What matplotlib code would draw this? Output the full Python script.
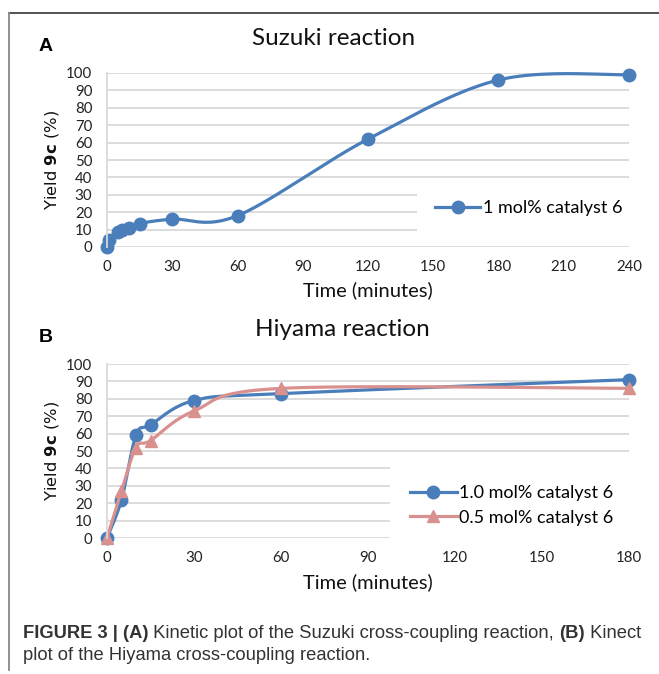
import numpy as np
import matplotlib
matplotlib.use('Agg')
import matplotlib.pyplot as plt
from matplotlib.lines import Line2D

plt.rcParams['mathtext.fontset'] = 'custom'
plt.rcParams['mathtext.rm'] = 'DejaVu Sans'
plt.rcParams['mathtext.bf'] = 'DejaVu Sans:bold'

# data
suz_t = [0, 1, 5, 7, 10, 15, 30, 60, 120, 180, 240]
suz_y = [0, 4, 8.5, 9.5, 11, 13.5, 16, 18, 62, 96, 99]
suz_label = '1 mol% catalyst 6'

hiy_t = [0, 5, 10, 15, 30, 60, 180]
hiy_10 = [0, 22, 59, 65, 79, 83, 91]
hiy_05 = [0, 27, 52, 56, 73, 86, 86]
hiy_labels = ['1.0 mol% catalyst 6', '0.5 mol% catalyst 6']

BLUE = '#4a7ebb'
PINK = '#d9918f'
GRID = '#d9d9d9'
CHART_FONT = 'Lato'

W, H = 659, 674
fig = plt.figure(figsize=(W / 100, H / 100), dpi=100)


def fx(px):
    return px / W


def fy(py):
    return 1 - py / H


def smooth(x, y, xspan, yspan, wpx, hpx, n=40):
    # Excel-like smoothed line: Catmull-Rom bezier in pixel space
    p = np.column_stack([np.asarray(x, float) / xspan * wpx,
                         np.asarray(y, float) / yspan * hpx])
    pts = np.vstack([p[0], p, p[-1]])
    out = []
    t = np.linspace(0, 1, n)[:, None]
    for i in range(1, len(pts) - 2):
        p0, p1, p2, p3 = pts[i - 1], pts[i], pts[i + 1], pts[i + 2]
        c1 = p1 + (p2 - p0) / 6
        c2 = p2 - (p3 - p1) / 6
        seg = ((1 - t) ** 3 * p1 + 3 * (1 - t) ** 2 * t * c1
               + 3 * (1 - t) * t ** 2 * c2 + t ** 3 * p2)
        out.append(seg)
    out = np.vstack(out)
    return out[:, 0] / wpx * xspan, out[:, 1] / hpx * yspan


def make_axes(top, bottom, xmax):
    ax = fig.add_axes([fx(107), fy(bottom), fx(629) - fx(107), (bottom - top) / H])
    ax.set_xlim(0, xmax)
    ax.set_ylim(0, 100)
    ax.set_xticks(np.arange(0, xmax + 1, 30))
    ax.set_yticks(np.arange(0, 101, 10))
    ax.grid(axis='y', color=GRID, lw=1.3)
    ax.set_axisbelow(True)
    for s in ['top', 'right', 'bottom']:
        ax.spines[s].set_visible(False)
    ax.spines['left'].set_color(GRID)
    ax.spines['left'].set_linewidth(1.3)
    ax.tick_params(length=0, labelsize=10.8, colors='#222222')
    ax.tick_params(axis='y', pad=10.5)
    ax.tick_params(axis='x', pad=9.5)
    for lab in ax.get_xticklabels() + ax.get_yticklabels():
        lab.set_fontfamily(CHART_FONT)
    return ax


def series(ax, t, y, color, marker, ms, xmax, top, bottom):
    sx, sy = smooth(t, y, xmax, 100, 522, bottom - top)
    ax.plot(sx, sy, color=color, lw=2.3, solid_capstyle='round', clip_on=False)
    ax.plot(t, y, ls='none', marker=marker, ms=ms, color=color, clip_on=False)
    return Line2D([], [], color=color, lw=2.3, marker=marker, ms=ms)


# panel A
axA = make_axes(73, 247, 240)
hA = series(axA, suz_t, suz_y, BLUE, 'o', 9, 240, 73, 247)
legA = axA.legend([hA], [suz_label], loc='center left',
                  bbox_to_anchor=((417 - 107) / 522, (247 - 208) / 174),
                  frameon=True, fancybox=False, framealpha=1, edgecolor='none',
                  facecolor='white', handlelength=2.5, handletextpad=0.15,
                  borderpad=1.0, borderaxespad=0,
                  prop={'family': CHART_FONT, 'size': 13})

# panel B
axB = make_axes(364, 538, 180)
h1 = series(axB, hiy_t, hiy_10, BLUE, 'o', 9, 180, 364, 538)
h2 = series(axB, hiy_t, hiy_05, PINK, '^', 9, 180, 364, 538)
legB = axB.legend([h1, h2], hiy_labels, loc='center left',
                  bbox_to_anchor=((390 - 107) / 522, (538 - 505.5) / 174),
                  frameon=True, fancybox=False, framealpha=1, edgecolor='none',
                  facecolor='white', handlelength=2.6, handletextpad=0.1,
                  labelspacing=0.45, borderpad=1.1, borderaxespad=0,
                  prop={'family': CHART_FONT, 'size': 13})

# titles, labels, panel letters
for title, cx, base in [('Suzuki reaction', 334, 45), ('Hiyama reaction', 342, 336)]:
    fig.text(fx(cx), fy(base), title, ha='center', va='baseline',
             fontsize=17.5, family=CHART_FONT, color='#111111')
for letter, base in [('A', 51), ('B', 342)]:
    fig.text(fx(39), fy(base), letter, ha='left', va='baseline',
             fontsize=14, fontweight='bold', family='Liberation Sans')
for base in [296, 588]:
    fig.text(fx(368), fy(base), 'Time (minutes)', ha='center', va='baseline',
             fontsize=14.5, family=CHART_FONT, color='#111111')
for cy in [160, 451]:
    fig.text(fx(52), fy(cy), r'Yield $\mathbf{9c}$ (%)', rotation=90,
             ha='center', va='center', fontsize=11.8, family='DejaVu Sans',
             color='#111111')

# frame lines of the figure panel
fig.add_artist(Line2D([fx(9), 1], [fy(13), fy(13)], color='#444444', lw=1.3))
fig.add_artist(Line2D([fx(9), fx(9)], [fy(13), fy(670)], color='#888888', lw=1.3))

# caption with bold pieces
cap_lines = [
    [('FIGURE 3 | (A)', 'bold'), (' Kinetic plot of the Suzuki cross-coupling reaction, ', 'normal'),
     ('(B)', 'bold'), (' Kinect', 'normal')],
    [('plot of the Hiyama cross-coupling reaction.', 'normal')],
]
fig.canvas.draw()
renderer = fig.canvas.get_renderer()
for parts, base in zip(cap_lines, [638, 660]):
    x = 23
    for txt, wt in parts:
        t = fig.text(fx(x), fy(base), txt, ha='left', va='baseline', fontsize=13.2,
                     fontweight=wt, family='Liberation Sans', color='#333333')
        x += t.get_window_extent(renderer).width

fig.savefig('out.png', dpi=100)
